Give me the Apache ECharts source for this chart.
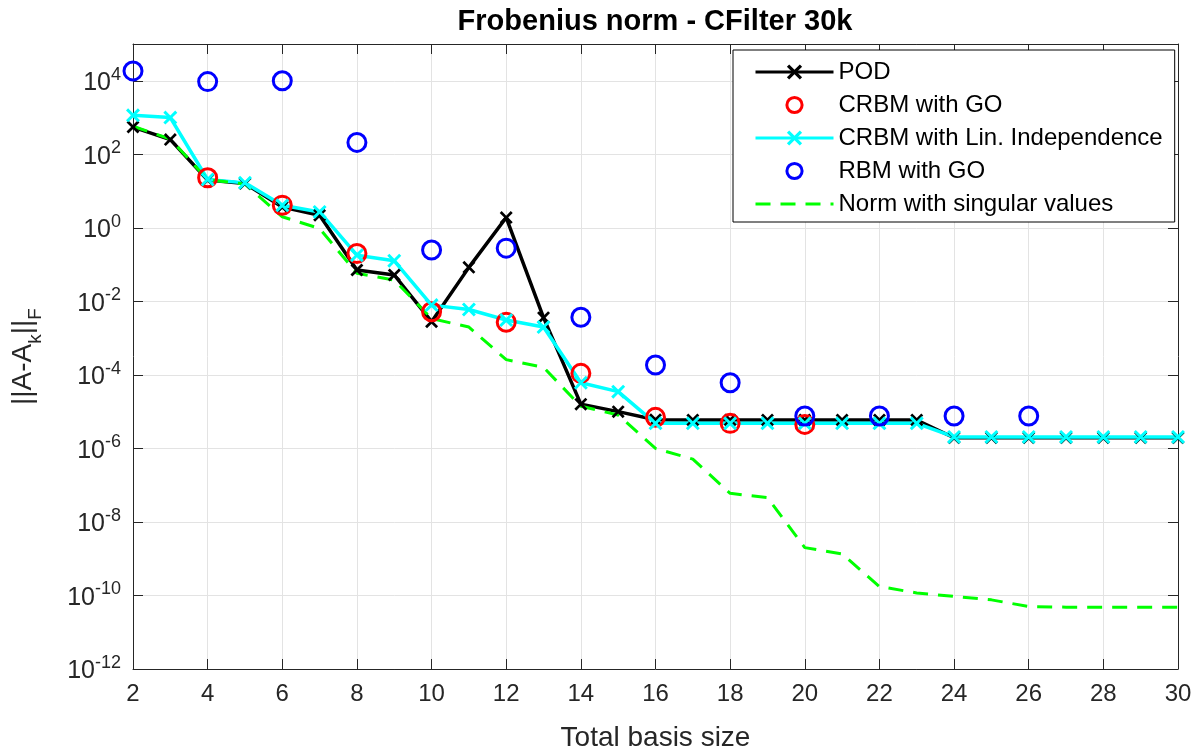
<!DOCTYPE html>
<html><head><meta charset="utf-8">
<script src="https://cdn.jsdelivr.net/npm/echarts@6/dist/echarts.min.js"></script>
<style>html,body{margin:0;padding:0;background:#fff}#c{width:1200px;height:756px}</style>
</head><body><div id="c"></div>
<script>
// ---- data ----
const basisSize = [2,3,4,5,6,7,8,9,10,11,12,13,14,15,16,17,18,19,20,21,22,23,24,25,26,27,28,29,30];
const podValues = [550, 251, 20, 16, 3.7, 2.2, 0.071, 0.052, 0.0028, 0.084, 1.9, 0.0036, 1.6e-5, 1.0e-5, 6.0e-6, 5.9e-6, 5.9e-6, 5.9e-6, 5.9e-6, 5.9e-6, 5.9e-6, 5.9e-6, 1.95e-6, 1.95e-6, 1.95e-6, 1.95e-6, 1.95e-6, 1.95e-6, 1.95e-6];
const crbmLinValues = [1150, 1000, 20.6, 16.7, 4.1, 2.7, 0.18, 0.127, 7.9e-3, 6.0e-3, 3.1e-3, 2.0e-3, 6.1e-5, 3.5e-5, 4.8e-6, 4.8e-6, 4.8e-6, 4.8e-6, 4.8e-6, 4.8e-6, 4.8e-6, 4.8e-6, 2.05e-6, 2.05e-6, 2.05e-6, 2.05e-6, 2.05e-6, 2.05e-6, 2.05e-6];
const svdNormValues = [580, 260, 20.6, 15.4, 2.0, 0.96, 0.058, 0.038, 3.4e-3, 2.0e-3, 2.6e-4, 1.6e-4, 1.4e-5, 8.1e-6, 1.0e-6, 5.1e-7, 6.0e-8, 4.6e-8, 2.0e-9, 1.35e-9, 1.75e-10, 1.17e-10, 9.4e-11, 7.6e-11, 5.0e-11, 4.8e-11, 4.8e-11, 4.8e-11, 4.8e-11];
const crbmGoBasis = [4, 6, 8, 10, 12, 14, 16, 18, 20];
const crbmGoValues = [23, 4.1, 0.2, 5.2e-3, 2.7e-3, 1.1e-4, 7.0e-6, 4.8e-6, 4.5e-6];
const rbmGoBasis = [2, 4, 6, 8, 10, 12, 14, 16, 18, 20, 22, 24, 26];
const rbmGoValues = [1.85e4, 9.5e3, 1.0e4, 210, 0.25, 0.28, 3.7e-3, 1.86e-4, 6.1e-5, 7.6e-6, 7.6e-6, 7.6e-6, 7.6e-6];
const xTickLabels = [2,4,6,8,10,12,14,16,18,20,22,24,26,28,30];
const yTickExponents = [-12,-10,-8,-6,-4,-2,0,2,4];
const seriesNames = ['POD', 'CRBM with GO', 'CRBM with Lin. Independence', 'RBM with GO', 'Norm with singular values'];

// ---- build ----
const lg = v => Math.log10(v);
const pairs = (xs, vs) => xs.map((x, i) => [x, lg(vs[i])]);
const cross = 'path://M0,1.5L1.5,0L5,3.5L8.5,0L10,1.5L6.5,5L10,8.5L8.5,10L5,6.5L1.5,10L0,8.5L3.5,5Z';
const axisColor = '#262626';
const font = 'Liberation Sans, Arial, Helvetica, sans-serif';

const chart = echarts.init(document.getElementById('c'), null, {renderer: 'canvas'});
const common = {min: 2, max: 30, interval: 2};
chart.setOption({
  animation: false,
  backgroundColor: '#fff',
  textStyle: {fontFamily: font},
  title: {
    text: 'Frobenius norm - CFilter 30k',
    left: 650, top: 2, textAlign: 'center',
    textStyle: {fontSize: 29, fontWeight: 'bold', color: '#000', fontFamily: font}
  },
  grid: {left: 133, right: 22, top: 44, bottom: 87, containLabel: false, outerBoundsMode: 'none'},
  legend: {
    orient: 'vertical', left: 733, top: 50,
    padding: [10, 12, 6, 21],
    itemWidth: 78, itemHeight: 19, itemGap: 9,
    backgroundColor: '#fff', borderColor: '#000', borderWidth: 1,
    textStyle: {fontSize: 24, color: '#000', fontFamily: font},
    lineStyle: {width: 3},
    data: [
      {name: seriesNames[0]},
      {name: seriesNames[1], itemStyle: {borderWidth: 3}},
      {name: seriesNames[2]},
      {name: seriesNames[3], itemStyle: {borderWidth: 3}},
      {name: seriesNames[4], itemStyle: {opacity: 0}}
    ]
  },
  xAxis: [{
    type: 'value', ...common, position: 'bottom',
    name: 'Total basis size', nameLocation: 'middle', nameGap: 55,
    nameTextStyle: {fontSize: 28, color: axisColor, fontFamily: font},
    axisLine: {show: true, onZero: false, lineStyle: {color: axisColor, width: 1}},
    axisTick: {show: true, inside: true, length: 10, lineStyle: {color: axisColor}},
    axisLabel: {fontSize: 24, color: axisColor, margin: 13, fontFamily: font,
      formatter: v => xTickLabels.indexOf(v) >= 0 ? String(v) : ''},
    splitLine: {show: true, lineStyle: {color: '#e3e3e3', width: 1}}
  }, {
    type: 'value', ...common, position: 'top',
    axisLine: {show: true, onZero: false, lineStyle: {color: axisColor, width: 1}},
    axisTick: {show: true, inside: true, length: 10, lineStyle: {color: axisColor}},
    axisLabel: {show: false}, splitLine: {show: false}
  }],
  yAxis: [{
    type: 'value', min: -12, max: 5, interval: 2, position: 'left',
    name: '{a|||A-A}{s|k}{a|||}{s|F}', nameLocation: 'middle', nameGap: 88,
    nameTextStyle: {color: axisColor, fontFamily: font, rich: {
      a: {fontSize: 28, color: axisColor, fontFamily: font, verticalAlign: 'bottom', padding: [0, 0, 8, 0]},
      s: {fontSize: 19, color: axisColor, fontFamily: font, verticalAlign: 'bottom'}
    }},
    axisLine: {show: true, onZero: false, lineStyle: {color: axisColor, width: 1}},
    axisTick: {show: true, inside: true, length: 10, lineStyle: {color: axisColor}},
    axisLabel: {margin: 12, color: axisColor, fontFamily: font,
      formatter: v => yTickExponents.indexOf(v) >= 0 ? '{b|10}{s|' + v + '}' : '',
      rich: {
        b: {fontSize: 25, color: axisColor, fontFamily: font, verticalAlign: 'bottom'},
        s: {fontSize: 18, color: axisColor, fontFamily: font, verticalAlign: 'bottom', padding: [0, 0, 12, 0]}
      }},
    splitLine: {show: true, lineStyle: {color: '#e3e3e3', width: 1}}
  }, {
    type: 'value', min: -12, max: 5, interval: 2, position: 'right',
    axisLine: {show: true, onZero: false, lineStyle: {color: axisColor, width: 1}},
    axisTick: {show: true, inside: true, length: 10, lineStyle: {color: axisColor}},
    axisLabel: {show: false}, splitLine: {show: false}
  }],
  series: [
    {
      name: seriesNames[0], type: 'line', data: pairs(basisSize, podValues),
      symbol: cross, symbolSize: 13, showAllSymbol: true,
      lineStyle: {color: '#000', width: 3.5}, itemStyle: {color: '#000'}
    },
    {
      name: seriesNames[1], type: 'line', data: pairs(crbmGoBasis, crbmGoValues),
      symbol: 'circle', symbolSize: 18,
      lineStyle: {width: 0, opacity: 0},
      itemStyle: {color: 'rgba(255,255,255,0)', borderColor: '#ff0000', borderWidth: 3}
    },
    {
      name: seriesNames[2], type: 'line', data: pairs(basisSize, crbmLinValues),
      symbol: cross, symbolSize: 14, showAllSymbol: true,
      lineStyle: {color: '#00ffff', width: 3.5}, itemStyle: {color: '#00ffff'}
    },
    {
      name: seriesNames[3], type: 'line', data: pairs(rbmGoBasis, rbmGoValues),
      symbol: 'circle', symbolSize: 18,
      lineStyle: {width: 0, opacity: 0},
      itemStyle: {color: 'rgba(255,255,255,0)', borderColor: '#0000ff', borderWidth: 3}
    },
    {
      name: seriesNames[4], type: 'line', data: pairs(basisSize, svdNormValues),
      symbol: 'none',
      lineStyle: {color: '#00ff00', width: 3, type: [15, 10]}, itemStyle: {color: '#00ff00'}
    }
  ]
});
</script>
</body></html>
